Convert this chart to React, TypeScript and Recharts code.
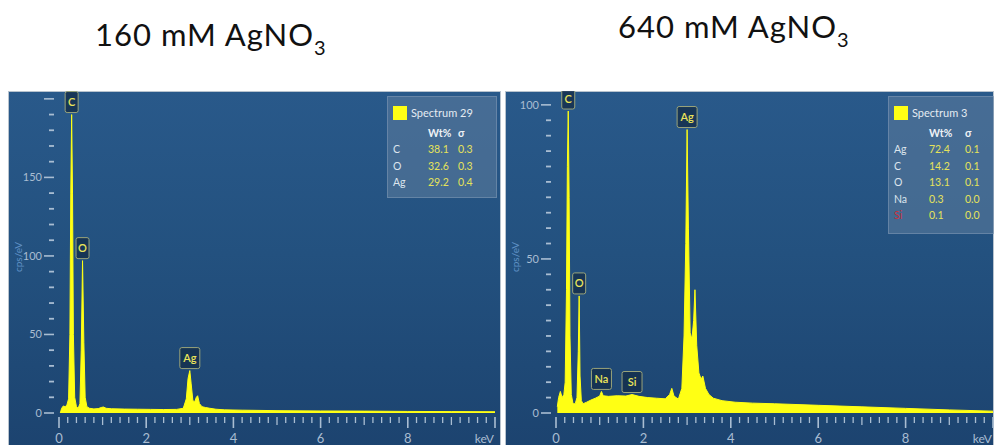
import React from "react";
import { Area, AreaChart, ReferenceDot, XAxis, YAxis } from "recharts";

// EDS spectra (keV vs cps/eV)
const kev160 = [0.03, 0.06, 0.1, 0.14, 0.18, 0.22, 0.25, 0.27, 0.29, 0.31, 0.33, 0.36, 0.4, 0.44, 0.48, 0.51, 0.54, 0.57, 0.6, 0.64, 0.7, 0.8, 0.9, 0.98, 1.02, 1.08, 1.2, 1.5, 1.8, 2.1, 2.4, 2.7, 2.85, 2.92, 2.96, 3.0, 3.03, 3.07, 3.11, 3.15, 3.18, 3.22, 3.28, 3.36, 3.46, 3.6, 3.8, 4.2, 5, 6, 7, 8, 9, 10];
const cps160 = [0, 3, 4.5, 4, 5, 9, 50, 140, 190, 140, 50, 10, 4, 3, 6, 40, 97, 45, 10, 4, 3, 2.6, 2.8, 3.6, 3.8, 3, 2.7, 2.5, 2.4, 2.3, 2.2, 2.3, 3, 9, 22, 27, 19, 8, 7, 10, 11, 6, 4, 3.5, 3, 2.4, 2, 1.8, 1.5, 1.3, 1.2, 1, 0.9, 0.8];

const kev640 = [0.03, 0.06, 0.1, 0.14, 0.18, 0.21, 0.24, 0.26, 0.28, 0.3, 0.32, 0.35, 0.39, 0.44, 0.48, 0.51, 0.53, 0.55, 0.58, 0.62, 0.7, 0.8, 0.9, 1.0, 1.04, 1.08, 1.2, 1.4, 1.6, 1.74, 1.9, 2.1, 2.3, 2.5, 2.6, 2.65, 2.7, 2.8, 2.88, 2.93, 2.97, 3.0, 3.03, 3.07, 3.11, 3.15, 3.18, 3.22, 3.27, 3.32, 3.36, 3.42, 3.5, 3.6, 3.8, 4.1, 4.5, 5, 6, 7, 8, 9, 10];
const cps640 = [2, 5, 7, 5, 6, 10, 40, 80, 98, 70, 25, 6, 3, 3, 5, 20, 38, 12, 4, 3, 3.5, 4.2, 4.8, 5.5, 7, 5.6, 5.4, 5.6, 5.5, 6, 5.4, 5, 4.8, 4.6, 6, 8, 5.5, 4.5, 8, 25, 55, 92, 60, 26, 24, 30, 40, 22, 13, 11, 12, 8, 6, 4.8, 4, 3.5, 3.2, 3, 2.5, 2, 1.5, 1, 0.6];

// peak markers
const peakNames160 = ["C", "O", "Ag"];
const peakKev160 = [0.29, 0.54, 3.0];
const peakCps160 = [190, 97, 27];

const peakNames640 = ["C", "O", "Na", "Si", "Ag"];
const peakKev640 = [0.28, 0.53, 1.04, 1.74, 3.0];
const peakCps640 = [98, 38, 7, 6, 92];

// quant tables
const elements160 = ["C", "O", "Ag"];
const wt160 = ["38.1", "32.6", "29.2"];
const sigma160 = ["0.3", "0.3", "0.4"];

const elements640 = ["Ag", "C", "O", "Na", "Si"];
const wt640 = ["72.4", "14.2", "13.1", "0.3", "0.1"];
const sigma640 = ["0.1", "0.1", "0.1", "0.0", "0.0"];

// axis ticks
const xTicks = [0, 0.2, 0.4, 0.6, 0.8, 1, 1.2, 1.4, 1.6, 1.8, 2, 2.2, 2.4, 2.6, 2.8, 3, 3.2, 3.4, 3.6, 3.8, 4, 4.2, 4.4, 4.6, 4.8, 5, 5.2, 5.4, 5.6, 5.8, 6, 6.2, 6.4, 6.6, 6.8, 7, 7.2, 7.4, 7.6, 7.8, 8, 8.2, 8.4, 8.6, 8.8, 9, 9.2, 9.4, 9.6, 9.8, 10];
const xLabels = ["0", "2", "4", "6", "8"];
const yTicks160 = [0, 10, 20, 30, 40, 50, 60, 70, 80, 90, 100, 110, 120, 130, 140, 150, 160, 170, 180, 190, 200];
const yMajor160 = [0, 50, 100, 150, 200];
const yLabels160 = ["0", "50", "100", "150"];
const yTicks640 = [0, 5, 10, 15, 20, 25, 30, 35, 40, 45, 50, 55, 60, 65, 70, 75, 80, 85, 90, 95, 100];
const yMajor640 = [0, 50, 100];
const yLabels640 = ["0", "50", "100"];

const TICK = "#a9bdd2";
const YELLOW = "#ffff14";
const FONT = "Lato, 'Open Sans', sans-serif";

const XTick = (props: any) => {
  const { x, y, payload } = props;
  const v = payload.value;
  const even = Number.isInteger(v) && v % 2 === 0;
  const odd = Number.isInteger(v) && !even;
  const len = even ? 11 : odd ? 8 : 6;
  const isUnit = v === 10;
  const label = isUnit ? "keV" : xLabels.includes(String(v)) ? String(v) : null;
  return (
    <g>
      <line x1={x} x2={x} y1={y + 4} y2={y + 4 + len} stroke={TICK} strokeWidth={even ? 1.6 : 1.3} />
      {label && (
        <text
          x={isUnit ? x - 1 : x}
          y={y + 30}
          textAnchor={isUnit ? "end" : "middle"}
          fill={TICK}
          fontSize={isUnit ? 12 : 13}
          fontFamily={FONT}
        >
          {label}
        </text>
      )}
    </g>
  );
};

const makeYTick = (major: number[], labels: string[]) => (props: any) => {
  const { x, y, payload } = props;
  const v = payload.value;
  const isMajor = major.includes(v);
  const label = labels.includes(String(v)) ? String(v) : null;
  return (
    <g>
      <line x1={x - (isMajor ? 15 : 10)} x2={x - 5} y1={y} y2={y} stroke={TICK} strokeWidth={isMajor ? 1.6 : 1.8} />
      {label && (
        <text x={x - 17} y={y + 4} textAnchor="end" fill={TICK} fontSize={11} fontFamily={FONT}>
          {label}
        </text>
      )}
    </g>
  );
};

const PeakTag = (name: string) => (props: any) => {
  const { cx, cy } = props;
  const w = name.length * 7 + 6;
  const h = 21;
  const bottom = cy - 2;
  return (
    <g>
      <rect x={cx - w / 2} y={bottom - h} width={w} height={h} rx={2} fill="#15304e" fillOpacity={0.85} stroke="#9aa47a" strokeWidth={1} />
      <text x={cx} y={bottom - 6.5} textAnchor="middle" fill="#eae45a" fontSize={11} fontWeight={600} fontFamily={FONT}>
        {name}
      </text>
    </g>
  );
};

const AxisName = (props: any) => {
  const { viewBox } = props;
  const x = viewBox.x + 14;
  const y = viewBox.y + viewBox.height / 2 + 5;
  return (
    <text x={x} y={y} transform={`rotate(-90 ${x} ${y})`} textAnchor="middle" fill="#5f90c4" fontSize={10} fontFamily={FONT}>
      cps/eV
    </text>
  );
};

interface QuantProps {
  title: string;
  elements: string[];
  wt: string[];
  sigma: string[];
  style: React.CSSProperties;
  sigmaLeft: number;
}

function QuantBox({ title, elements, wt, sigma, style, sigmaLeft }: QuantProps) {
  const cell: React.CSSProperties = { position: "absolute", fontSize: 10.5, lineHeight: "12px", whiteSpace: "nowrap" };
  return (
    <div style={{ position: "absolute", background: "rgba(95,125,158,0.55)", border: "1px solid rgba(150,170,195,0.4)", fontFamily: FONT, ...style }}>
      <div style={{ position: "absolute", left: 5, top: 9, width: 14, height: 14, background: YELLOW }} />
      <span style={{ ...cell, left: 23, top: 10, color: "#e4ebf2", fontSize: 11 }}>{title}</span>
      <span style={{ ...cell, left: 40, top: 30, color: "#eef2f6", fontWeight: 700 }}>Wt%</span>
      <span style={{ ...cell, left: sigmaLeft, top: 30, color: "#eef2f6", fontWeight: 700 }}>σ</span>
      {elements.map((el, i) => (
        <React.Fragment key={el}>
          <span style={{ ...cell, left: 5, top: 46 + i * 16.5, color: el === "Si" ? "#c8303c" : "#dde5ee" }}>{el}</span>
          <span style={{ ...cell, left: 40, top: 46 + i * 16.5, color: "#e6e35a" }}>{wt[i]}</span>
          <span style={{ ...cell, left: sigmaLeft, top: 46 + i * 16.5, color: "#e6e35a" }}>{sigma[i]}</span>
        </React.Fragment>
      ))}
    </div>
  );
}

interface PanelProps {
  left: number;
  width: number;
  rightMargin: number;
  kev: number[];
  cps: number[];
  yMax: number;
  yTicks: number[];
  yMajor: number[];
  yLabels: string[];
  peakNames: string[];
  peakKev: number[];
  peakCps: number[];
  children?: React.ReactNode;
}

function SpectrumPanel(p: PanelProps) {
  const data = p.kev.map((k, i) => ({ kev: k, cps: p.cps[i] }));
  return (
    <div
      style={{
        position: "absolute",
        left: p.left,
        top: 91,
        width: p.width,
        height: 360,
        background: "linear-gradient(180deg, #29598a 0%, #23517f 45%, #1c436f 100%)",
        boxShadow: "inset 0 0 0 1px #b8c3ce",
        overflow: "hidden",
      }}
    >
      <AreaChart width={p.width} height={360} data={data} margin={{ top: 0, right: p.rightMargin, bottom: 0, left: 0 }}>
        <XAxis
          dataKey="kev"
          type="number"
          domain={[0, 10]}
          ticks={xTicks}
          interval={0}
          height={38}
          axisLine={false}
          tickLine={false}
          tickSize={0}
          tickMargin={0}
          tick={<XTick />}
        />
        <YAxis
          type="number"
          domain={[0, p.yMax]}
          ticks={p.yTicks}
          interval={0}
          width={51}
          axisLine={false}
          tickLine={false}
          tickSize={0}
          tickMargin={0}
          tick={makeYTick(p.yMajor, p.yLabels)}
          label={<AxisName />}
        />
        <Area
          type="linear"
          dataKey="cps"
          stroke={YELLOW}
          strokeWidth={1}
          fill={YELLOW}
          fillOpacity={1}
          dot={false}
          activeDot={false}
          isAnimationActive={false}
        />
        {p.peakNames.map((name, i) => (
          <ReferenceDot key={name} x={p.peakKev[i]} y={p.peakCps[i]} r={0} ifOverflow="visible" shape={PeakTag(name)} />
        ))}
      </AreaChart>
      {p.children}
    </div>
  );
}

const titleStyle: React.CSSProperties = {
  position: "absolute",
  fontFamily: FONT,
  fontSize: 31,
  color: "#111",
  whiteSpace: "nowrap",
  lineHeight: 1,
  letterSpacing: 1,
};

export default function App() {
  return (
    <div style={{ position: "absolute", left: 0, top: 0, width: 994, height: 445, overflow: "hidden", background: "#fff" }}>
      <div style={{ ...titleStyle, left: 95, top: 19 }}>
        160 mM AgNO<sub style={{ fontSize: 20, verticalAlign: -9 }}>3</sub>
      </div>
      <div style={{ ...titleStyle, left: 618, top: 11 }}>
        640 mM AgNO<sub style={{ fontSize: 20, verticalAlign: -9 }}>3</sub>
      </div>
      <SpectrumPanel
        left={8}
        width={493}
        rightMargin={6}
        kev={kev160}
        cps={cps160}
        yMax={205}
        yTicks={yTicks160}
        yMajor={yMajor160}
        yLabels={yLabels160}
        peakNames={peakNames160}
        peakKev={peakKev160}
        peakCps={peakCps160}
      >
        <QuantBox title="Spectrum 29" elements={elements160} wt={wt160} sigma={sigma160} sigmaLeft={70} style={{ left: 379, top: 5, width: 108, height: 100 }} />
      </SpectrumPanel>
      <SpectrumPanel
        left={505}
        width={489}
        rightMargin={1}
        kev={kev640}
        cps={cps640}
        yMax={104.5}
        yTicks={yTicks640}
        yMajor={yMajor640}
        yLabels={yLabels640}
        peakNames={peakNames640}
        peakKev={peakKev640}
        peakCps={peakCps640}
      >
        <QuantBox title="Spectrum 3" elements={elements640} wt={wt640} sigma={sigma640} sigmaLeft={76} style={{ left: 383, top: 5, width: 110, height: 136 }} />
      </SpectrumPanel>
    </div>
  );
}
